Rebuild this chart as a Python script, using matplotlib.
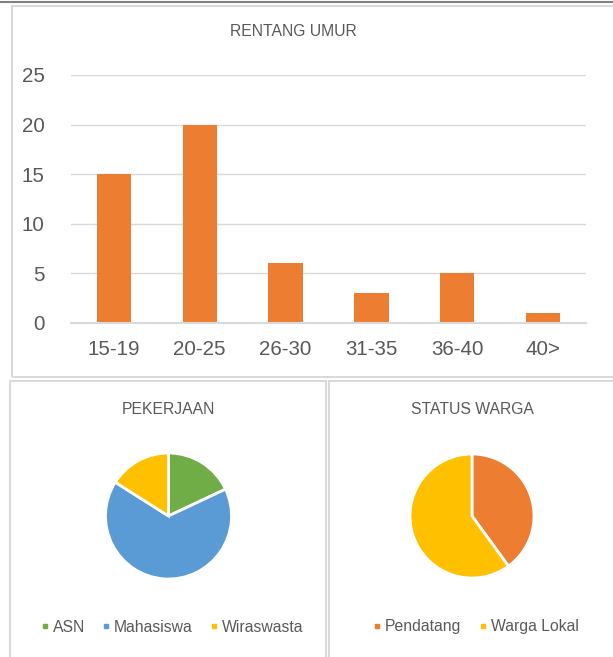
import matplotlib.pyplot as plt
from matplotlib.lines import Line2D
from matplotlib.patches import Rectangle

plt.rcParams['font.family'] = ['Liberation Sans', 'DejaVu Sans']
abu = '#595959'
garis = '#d9d9d9'

umur = ['15-19', '20-25', '26-30', '31-35', '36-40', '40>']
jumlah_umur = [15, 20, 6, 3, 5, 1]

pekerjaan = ['ASN', 'Mahasiswa', 'Wiraswasta']
jumlah_pekerjaan = [9, 33, 8]
warna_pekerjaan = ['#70AD47', '#5B9BD5', '#FFC000']

status = ['Pendatang', 'Warga Lokal']
jumlah_status = [20, 30]
warna_status = ['#ED7D31', '#FFC000']

W, H = 613, 657
fig = plt.figure(figsize=(W/100, H/100), dpi=100)

def kotak(x0, y0, x1, y1):
    # kotak dalam piksel (y dari atas)
    fig.add_artist(Rectangle((x0/W, 1-y1/H), (x1-x0)/W, (y1-y0)/H, transform=fig.transFigure,
                             fill=False, edgecolor=garis, lw=1.5))

kotak(12, 6, 616, 377)
kotak(10, 381, 326, 662)
kotak(329, 381, 616, 662)
fig.add_artist(Line2D([0, 1], [1-2/H, 1-2/H], transform=fig.transFigure, color='#808080', lw=1.5))

# ----- diagram batang
ax = fig.add_axes([71/W, 1-323/H, (586-71)/W, (323-75)/H])
ax.bar(range(len(umur)), jumlah_umur, width=0.4, color='#ED7D31', zorder=3)
ax.set_xlim(-0.5, len(umur)-0.5)
ax.set_ylim(0, 25)
ax.set_yticks([0, 5, 10, 15, 20, 25])
ax.set_xticks(range(len(umur)))
ax.set_xticklabels(umur)
ax.grid(axis='y', color=garis, lw=1, zorder=0)
for s in ['top', 'right', 'left']:
    ax.spines[s].set_visible(False)
ax.spines['bottom'].set_color(garis)
ax.spines['bottom'].set_linewidth(1.5)
ax.spines['bottom'].set_zorder(4)
ax.tick_params(length=0, labelsize=14.8, labelcolor=abu)
ax.tick_params(axis='y', pad=19)
ax.tick_params(axis='x', pad=12)
fig.text(293/W, 1-32/H, 'RENTANG UMUR', ha='center', va='center', fontsize=11.3, color=abu)

# ----- diagram lingkaran
def pie(cx, cy, r, nilai, warna, label, judul, lx):
    a = fig.add_axes([(cx-r)/W, 1-(cy+r)/H, 2*r/W, 2*r/H])
    a.pie(nilai, colors=warna, startangle=90, counterclock=False, radius=1,
          wedgeprops=dict(edgecolor='white', linewidth=2))
    a.set_xlim(-1, 1)
    a.set_ylim(-1, 1)
    a.axis('off')
    fig.text(cx/W, 1-409/H, judul, ha='center', va='center', fontsize=11.3, color=abu)
    h = [Line2D([], [], marker='s', ls='', color=c, markersize=3.5) for c in warna]
    fig.legend(h, label, loc='center', bbox_to_anchor=(lx/W, 1-627/H), ncol=len(label),
               frameon=False, fontsize=11.3, labelcolor=abu, handlelength=0.5,
               handletextpad=0.25, columnspacing=1.1)

pie(168.5, 516, 63, jumlah_pekerjaan, warna_pekerjaan, pekerjaan, 'PEKERJAAN', 172)
pie(472, 516, 62, jumlah_status, warna_status, status, 'STATUS WARGA', 476)

plt.savefig('out.png', dpi=100)
